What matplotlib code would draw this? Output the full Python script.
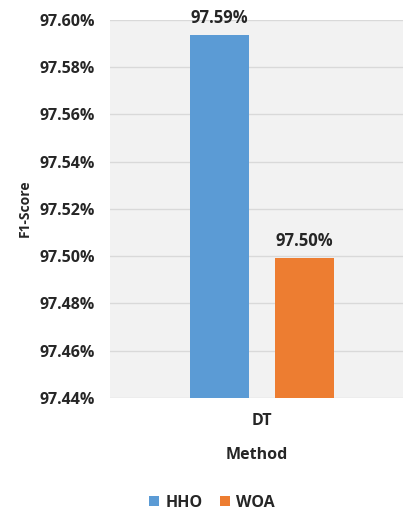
import matplotlib
matplotlib.use("Agg")
import matplotlib.pyplot as plt
from matplotlib.ticker import FuncFormatter

categories = ["DT"]
series = ["HHO", "WOA"]
values = [97.5936, 97.4992]
labels = ["97.59%", "97.50%"]
colors = ["#5B9BD5", "#ED7D31"]
yticks = [97.44, 97.46, 97.48, 97.50, 97.52, 97.54, 97.56, 97.58, 97.60]

plt.rcParams['font.family'] = ['Open Sans', 'DejaVu Sans']
W, H = 403, 515
fig = plt.figure(figsize=(W/100, H/100), dpi=100)
ax = fig.add_axes([110/W, 1-398/H, 293/W, (398-20)/H])
ax.set_facecolor("#F2F2F2")

FS = 11.5
TXT = "#262626"
offsets = [-0.143, 0.143]
for i, (s, v, lab, c) in enumerate(zip(series, values, labels, colors)):
    ax.bar(offsets[i], v - 97.44, bottom=97.44, width=0.2, color=c, label=s, zorder=3)
    ax.annotate(lab, (offsets[i], v), xytext=(0, 8.6), textcoords="offset points",
                ha="center", va="baseline", fontsize=12, fontweight="bold", color=TXT, zorder=4)

ax.set_xlim(-0.515, 0.478)
ax.set_ylim(97.44, 97.60)
ax.set_yticks(yticks)
ax.yaxis.set_major_formatter(FuncFormatter(lambda v, p: f"{v:.2f}%"))
ax.set_xticks([0])
ax.set_xticklabels(categories)
ax.grid(axis="y", color="#D9D9D9", linewidth=1, zorder=0)
for sp in ax.spines.values():
    sp.set_visible(False)
ax.tick_params(length=0)
for t in ax.get_yticklabels():
    t.set_fontsize(FS); t.set_fontweight("bold"); t.set_color(TXT)
ax.tick_params(axis="y", pad=11)
for t in ax.get_xticklabels():
    t.set_fontsize(FS); t.set_fontweight("bold"); t.set_color(TXT)
ax.tick_params(axis="x", pad=11)
ax.set_xlabel("Method", fontsize=FS, fontweight="bold", color=TXT, labelpad=13)
ax.set_ylabel("F1-Score", fontsize=10, fontweight="bold", color=TXT)
ax.yaxis.set_label_coords(0, 0.5)
ax.yaxis.label.set_transform(fig.transFigure)
ax.yaxis.label.set_position((25 / W, 1 - 208 / H))
ax.yaxis.label.set_va("center")

leg = fig.legend(loc="center", bbox_to_anchor=(212/W, 1-503/H), ncol=2, frameon=False,
                 prop={"size": FS, "weight": "bold"}, handlelength=0.6, handleheight=0.6,
                 columnspacing=1.1, handletextpad=0.4)
for t in leg.get_texts():
    t.set_color(TXT)

fig.savefig("out.png", dpi=100)
